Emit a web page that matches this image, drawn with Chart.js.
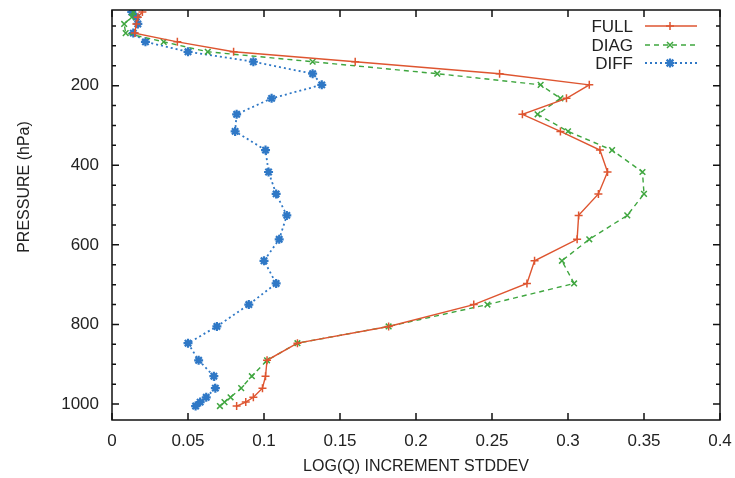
<!DOCTYPE html>
<html>
<head>
<meta charset="utf-8">
<script src="https://cdn.jsdelivr.net/npm/chart.js@4.4.0/dist/chart.umd.min.js"></script>
<style>
  html, body { margin: 0; padding: 0; background: #fff; }
  #wrap { width: 735px; height: 478px; }
</style>
</head>
<body>
<div id="wrap"><canvas id="profileChart"></canvas></div>
<script>
// pressure levels (hPa) and std dev of the log(q) increment per level
const pressure = [15, 28, 45, 68, 90, 115, 140, 170, 198, 232, 272, 315, 362, 417, 472, 526, 586, 640, 697, 750, 805, 847, 890, 930, 960, 983, 995, 1005];
const full = [0.020, 0.017, 0.016, 0.015, 0.043, 0.080, 0.160, 0.255, 0.314, 0.299, 0.270, 0.295, 0.321, 0.326, 0.320, 0.307, 0.306, 0.278, 0.273, 0.238, 0.182, 0.122, 0.102, 0.101, 0.099, 0.093, 0.088, 0.082];
const diag = [0.014, 0.013, 0.008, 0.009, 0.034, 0.063, 0.132, 0.214, 0.282, 0.295, 0.280, 0.300, 0.329, 0.349, 0.350, 0.339, 0.314, 0.296, 0.304, 0.247, 0.182, 0.122, 0.102, 0.092, 0.085, 0.078, 0.074, 0.071];
const diff = [0.013, 0.016, 0.017, 0.014, 0.022, 0.050, 0.093, 0.132, 0.138, 0.105, 0.082, 0.081, 0.101, 0.103, 0.108, 0.115, 0.110, 0.100, 0.108, 0.090, 0.069, 0.050, 0.057, 0.067, 0.068, 0.062, 0.058, 0.055];

const xTicks = [0, 0.05, 0.1, 0.15, 0.2, 0.25, 0.3, 0.35, 0.4];
const yTicks = [200, 400, 600, 800, 1000];
const yMinor = [50, 100, 150, 250, 300, 350, 450, 500, 550, 650, 700, 750, 850, 900, 950];

const FONT = "'Liberation Sans', Arial, sans-serif";

function pts(vals) {
  return vals.map((v, i) => ({ x: v, y: pressure[i] }));
}

const series = [
  { label: 'FULL', data: pts(full), color: '#de5530', dash: [], style: 'cross', width: 1.4, radius: 4 },
  { label: 'DIAG', data: pts(diag), color: '#3fa63f', dash: [5, 4], style: 'crossRot', width: 1.4, radius: 4 },
  { label: 'DIFF', data: pts(diff), color: '#2f78c6', dash: [2, 3], style: 'star', width: 1.8, radius: 4.5 }
];

function marker(ctx, style, x, y, r) {
  ctx.beginPath();
  if (style === 'cross' || style === 'star') {
    ctx.moveTo(x - r, y); ctx.lineTo(x + r, y);
    ctx.moveTo(x, y - r); ctx.lineTo(x, y + r);
  }
  if (style === 'crossRot' || style === 'star') {
    const d = r * 0.75;
    ctx.moveTo(x - d, y - d); ctx.lineTo(x + d, y + d);
    ctx.moveTo(x - d, y + d); ctx.lineTo(x + d, y - d);
  }
  ctx.stroke();
}

// frame, inward ticks on all sides, y title, legend
const framePlugin = {
  id: 'frame',
  afterDraw(chart) {
    const { ctx, chartArea: a, scales } = chart;
    ctx.save();
    ctx.strokeStyle = '#111';
    ctx.lineWidth = 1.5;
    ctx.setLineDash([]);
    ctx.strokeRect(a.left, a.top, a.right - a.left, a.bottom - a.top);
    ctx.beginPath();
    xTicks.forEach(v => {
      const px = scales.x.getPixelForValue(v);
      ctx.moveTo(px, a.bottom); ctx.lineTo(px, a.bottom - 7);
      ctx.moveTo(px, a.top); ctx.lineTo(px, a.top + 7);
    });
    yTicks.forEach(v => {
      const py = scales.y.getPixelForValue(v);
      ctx.moveTo(a.left, py); ctx.lineTo(a.left + 7, py);
      ctx.moveTo(a.right, py); ctx.lineTo(a.right - 7, py);
    });
    yMinor.forEach(v => {
      const py = scales.y.getPixelForValue(v);
      ctx.moveTo(a.left, py); ctx.lineTo(a.left + 4, py);
      ctx.moveTo(a.right, py); ctx.lineTo(a.right - 4, py);
    });
    ctx.stroke();

    // y axis title
    ctx.fillStyle = '#222';
    ctx.font = '16px ' + FONT;
    ctx.textAlign = 'center';
    ctx.textBaseline = 'middle';
    ctx.translate(25, 187);
    ctx.rotate(-Math.PI / 2);
    ctx.fillText('PRESSURE (hPa)', 0, 0);
    ctx.restore();

    // legend
    ctx.save();
    ctx.font = '17px ' + FONT;
    ctx.textAlign = 'right';
    ctx.textBaseline = 'middle';
    const rows = [26, 45, 63];
    series.forEach((s, i) => {
      const y = rows[i];
      ctx.fillStyle = '#222';
      ctx.fillText(s.label, 633, y + 1);
      ctx.strokeStyle = s.color;
      ctx.lineWidth = s.width;
      ctx.setLineDash(s.dash);
      ctx.beginPath();
      ctx.moveTo(645, y); ctx.lineTo(697, y);
      ctx.stroke();
      ctx.setLineDash([]);
      ctx.lineWidth = s.style === 'star' ? 2.2 : 1.5;
      marker(ctx, s.style, 670, y, s.radius);
    });
    ctx.restore();
  }
};

const data = {
  datasets: series.map(s => ({
    label: s.label,
    data: s.data,
    showLine: true,
    borderColor: s.color,
    backgroundColor: s.color,
    borderWidth: s.width,
    borderDash: s.dash,
    pointStyle: s.style,
    pointRadius: s.radius,
    pointBorderWidth: s.style === 'star' ? 2.2 : 1.5,
    pointBorderColor: s.color,
    pointHoverRadius: s.radius,
    tension: 0
  }))
};

const config = {
  type: 'scatter',
  data,
  options: {
    responsive: true,
    maintainAspectRatio: false,
    animation: false,
    devicePixelRatio: 1,
    layout: { padding: { top: 10, right: 15, left: 0, bottom: 0 } },
    plugins: {
      legend: { display: false },
      tooltip: { enabled: false }
    },
    scales: {
      x: {
        type: 'linear',
        min: 0,
        max: 0.4,
        grid: { display: false },
        border: { display: false },
        afterBuildTicks: s => { s.ticks = xTicks.map(v => ({ value: v })); },
        afterFit: s => { s.height = 58; s.paddingLeft = 0; s.paddingRight = 0; },
        ticks: {
          padding: 3,
          color: '#222',
          font: { family: FONT, size: 17 },
          callback: v => String(Math.round(v * 100) / 100)
        },
        title: {
          display: true,
          text: 'LOG(Q) INCREMENT STDDEV',
          color: '#222',
          font: { family: FONT, size: 16 },
          padding: { top: 0, bottom: 2 }
        }
      },
      y: {
        type: 'linear',
        reverse: true,
        min: 10,
        max: 1040,
        grid: { display: false },
        border: { display: false },
        afterBuildTicks: s => { s.ticks = yTicks.map(v => ({ value: v })); },
        afterFit: s => { s.width = 112; s.paddingTop = 0; s.paddingBottom = 0; },
        ticks: {
          padding: 5,
          color: '#222',
          font: { family: FONT, size: 17 },
          callback: v => String(v)
        }
      }
    }
  },
  plugins: [framePlugin]
};

const myChart = new Chart(document.getElementById('profileChart'), config);
</script>
</body>
</html>
